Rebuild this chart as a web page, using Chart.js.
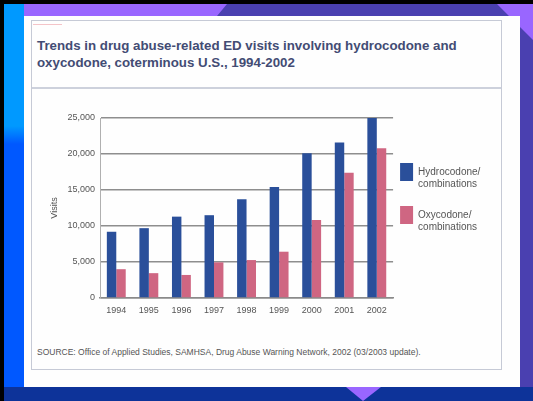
<!DOCTYPE html>
<html>
<head>
<meta charset="utf-8">
<script src="https://cdn.jsdelivr.net/npm/chart.js@4"></script>
<style>
  body { margin: 0; width: 533px; height: 401px; overflow: hidden; background: #9966ff; position: relative; font-family: "Liberation Sans", Arial, sans-serif; }
  .abs { position: absolute; }
</style>
</head>
<body>
<div class="abs" style="left:0;top:0;width:533px;height:401px;background:#4a40b0;clip-path:polygon(227px 4px,497px 4px,533px 40px,533px 401px,520px 401px,520px 16px,217px 16px);"></div>
<div class="abs" style="left:0;top:0;width:533px;height:4px;background:#000;"></div>
<div class="abs" style="left:0;top:0;width:4px;height:401px;background:#000;"></div>
<div class="abs" style="left:4px;top:4px;width:20px;height:383px;background:linear-gradient(to bottom,#0099ff 0,#0099ff 122px,#0058ff 140px,#0058ff 100%);"></div>
<div class="abs" style="left:4px;top:387px;width:529px;height:14px;background:#0d3399;"></div>
<div class="abs" style="left:346px;top:387px;width:35px;height:14px;background:#9966ff;clip-path:polygon(0 0,35px 0,17px 14px);"></div>
<div class="abs" style="left:24px;top:16px;width:496px;height:371px;background:#fefefe;"></div>
<div class="abs" style="left:31px;top:20px;width:469px;height:348px;border:1px solid #c6cad6;"></div>
<div class="abs" style="left:32px;top:87px;width:469px;height:2px;background:#cdd1dc;"></div>
<div class="abs" style="left:33px;top:24px;width:29px;height:1px;background:#f4c4c8;"></div>
<div class="abs" style="left:37px;top:37px;width:462px;font-weight:bold;font-size:13.3px;line-height:17px;color:#434c74;">Trends in drug abuse-related ED visits involving hydrocodone and<br>oxycodone, coterminous U.S., 1994-2002</div>
<div class="abs" style="left:37px;top:347px;font-size:8.5px;line-height:10px;color:#555;white-space:nowrap;">SOURCE: Office of Applied Studies, SAMHSA, Drug Abuse Warning Network, 2002 (03/2003 update).</div>
<div class="abs" style="left:31px;top:89px;width:470px;height:240px;"><canvas id="c"></canvas></div>
<script>
const years = ['1994', '1995', '1996', '1997', '1998', '1999', '2000', '2001', '2002'];
const hydrocodone = [9200, 9700, 11300, 11500, 13700, 15400, 20100, 21600, 25100];
const oxycodone = [4000, 3450, 3200, 4950, 5270, 6430, 10830, 17400, 20800];
const yTicks = [0, 5000, 10000, 15000, 20000, 25000];

const tickFont = { family: 'Liberation Sans', size: 9 };

new Chart(document.getElementById('c'), {
  type: 'bar',
  data: {
    labels: years,
    datasets: [{
      label: ['Hydrocodone/', 'combinations', ''],
      data: hydrocodone,
      backgroundColor: '#2a4f9a',
    },
    {
      label: ['Oxycodone/', 'combinations', ''],
      data: oxycodone,
      backgroundColor: '#cf6682',
    }]
  },
  options: {
    responsive: true,
    maintainAspectRatio: false,
    animation: false,
    layout: { padding: { top: 29, left: 18, right: 14, bottom: 11 } },
    datasets: { bar: { categoryPercentage: 0.58, barPercentage: 1 } },
    scales: {
      x: {
        grid: { display: false, drawTicks: false },
        border: { color: '#8a8a8a', width: 1.5 },
        ticks: { font: tickFont, color: '#555', padding: 7 },
        afterFit: (s) => { s.height = 20; }
      },
      y: {
        min: yTicks[0],
        max: yTicks[yTicks.length - 1],
        afterBuildTicks: (s) => { s.ticks = yTicks.map(v => ({ value: v })); },
        grid: { color: '#8e8e8e', lineWidth: 1.5, drawTicks: false },
        border: { color: '#b0b0b0', width: 1 },
        ticks: { font: tickFont, color: '#555', padding: 5 },
        title: { display: true, text: 'Visits', font: tickFont, color: '#555', padding: 0 },
        afterFit: (s) => { s.width = 51; }
      }
    },
    plugins: {
      tooltip: { enabled: false },
      legend: {
        position: 'right',
        align: 'start',
        title: { display: true, text: ' ', font: { size: 10 }, padding: { top: 26, bottom: 0 } },
        labels: {
          boxWidth: 13,
          boxHeight: 18,
          padding: 7,
          color: '#555',
          font: { family: 'Liberation Sans', size: 10 }
        }
      }
    }
  }
});
</script>
</body>
</html>
